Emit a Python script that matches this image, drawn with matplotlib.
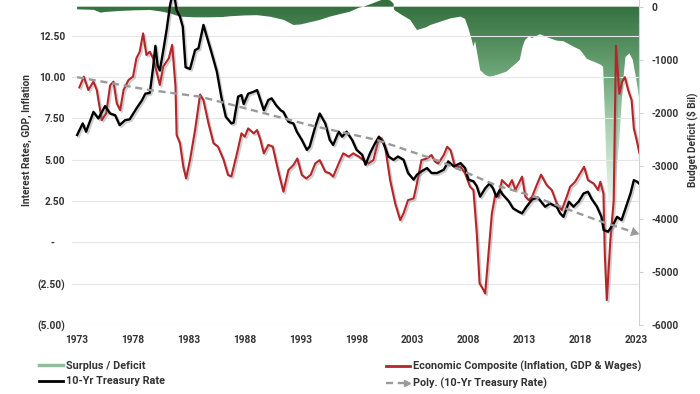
import numpy as np
import matplotlib
matplotlib.use("Agg")
import matplotlib.pyplot as plt
import matplotlib.patheffects as pe
from matplotlib.colors import LinearSegmentedColormap
from matplotlib.lines import Line2D
from matplotlib.legend_handler import HandlerBase
from matplotlib.ticker import FuncFormatter, FixedLocator

plt.rcParams['font.family'] = ['Roboto', 'DejaVu Sans']

# 10-yr treasury rate (%)
tsy_years = [1973.0, 1973.5, 1973.8, 1974.46, 1974.9, 1975.5, 1975.95, 1976.4, 1976.8, 1977.3,
             1977.7, 1978.3, 1978.8, 1979.1, 1979.5, 1979.8, 1980.0, 1980.2, 1980.4, 1980.7,
             1981.0, 1981.3, 1981.6, 1981.9, 1982.2, 1982.45, 1982.7, 1983.1, 1983.55, 1983.85,
             1984.3, 1984.6, 1985.0, 1985.5, 1985.9, 1986.3, 1986.8, 1987.0, 1987.4, 1987.7,
             1987.9, 1988.3, 1988.8, 1989.1, 1989.4, 1989.7, 1990.1, 1990.4, 1990.8, 1991.2,
             1991.45, 1991.9, 1992.35, 1992.65, 1993.1, 1993.55, 1993.8, 1994.3, 1994.7, 1995.2,
             1995.6, 1995.9, 1996.4, 1996.7, 1997.1, 1997.6, 1998.0, 1998.5, 1998.8, 1999.2,
             1999.65, 2000.0, 2000.4, 2000.85, 2001.3, 2001.7, 2002.2, 2002.6, 2003.1, 2003.4,
             2003.8, 2004.3, 2004.7, 2005.2, 2005.8, 2006.2, 2006.7, 2007.3, 2007.7, 2008.0,
             2008.45, 2008.75, 2009.05, 2009.5, 2009.9, 2010.2, 2010.5, 2010.8, 2011.1, 2011.6,
             2012.0, 2012.5, 2012.8, 2013.2, 2013.7, 2014.2, 2014.86, 2015.3, 2015.9, 2016.2,
             2016.5, 2017.0, 2017.4, 2017.85, 2018.3, 2018.7, 2019.0, 2019.5, 2019.9, 2020.1,
             2020.5, 2021.0, 2021.3, 2021.7, 2022.2, 2022.5, 2022.8, 2023.1, 2023.3]
tsy_values = [6.5, 7.2, 6.7, 7.9, 7.5, 8.25, 7.8, 7.7, 7.1, 7.4,
              7.45, 8.1, 8.6, 9.0, 9.05, 10.6, 11.9, 10.7, 10.4, 11.6,
              12.85, 14.3, 15.3, 14.06, 13.66, 13.05, 10.6, 10.5, 11.64, 11.74,
              13.16, 12.45, 11.54, 10.33, 8.8, 7.6, 7.2, 7.25, 8.82, 8.92,
              8.37, 9.0, 9.12, 9.22, 8.62, 8.0, 8.62, 8.72, 8.3, 8.0,
              7.9, 7.3, 7.2, 6.7, 6.2, 5.6, 5.8, 7.0, 7.8, 7.2,
              6.2, 5.9, 6.7, 6.4, 6.7, 6.2, 5.6, 5.3, 4.7, 5.4,
              6.0, 6.4, 6.0, 5.2, 5.0, 5.2, 5.0, 4.2, 3.8, 4.1,
              4.3, 4.5, 4.2, 4.2, 4.4, 4.9, 4.6, 4.8, 4.5, 3.8,
              3.7, 3.4, 2.77, 3.27, 3.57, 3.27, 2.77, 3.17, 2.87, 2.5,
              2.06, 1.86, 1.76, 2.16, 2.6, 2.72, 2.16, 2.36, 2.16, 1.76,
              1.55, 2.46, 2.16, 2.46, 2.96, 3.07, 2.66, 2.16, 1.55, 0.75,
              0.65, 1.15, 1.55, 1.35, 2.36, 2.96, 3.77, 3.67, 3.55]

# Poly. trendline of the 10-yr rate, as drawn on the chart
trend_years = [1973.0, 1979.5, 1984.0, 1987.0, 1993.8, 1999.8, 2005.5, 2010.5, 2013.8, 2016.5,
               2019.5, 2023.3]
trend_values = [10.0, 9.22, 8.82, 8.3, 7.1, 6.2, 4.9, 3.45, 2.8, 2.1,
                1.35, 0.5]

# Economic composite (inflation, GDP & wages)
comp_years = [1973.2, 1973.6, 1974.0, 1974.46, 1974.76, 1975.2, 1975.6, 1975.95, 1976.25, 1976.55,
              1976.85, 1977.15, 1977.6, 1978.0, 1978.3, 1978.6, 1978.9, 1979.2, 1979.5, 1979.8,
              1980.07, 1980.4, 1980.7, 1981.2, 1981.5, 1981.8, 1981.9, 1982.2, 1982.5, 1982.75,
              1983.1, 1983.55, 1984.0, 1984.3, 1984.75, 1985.2, 1985.6, 1986.1, 1986.5, 1986.8,
              1987.3, 1987.7, 1988.0, 1988.3, 1988.8, 1989.1, 1989.4, 1989.7, 1990.1, 1990.5,
              1990.9, 1991.45, 1991.9, 1992.35, 1992.7, 1993.1, 1993.5, 1993.9, 1994.3, 1994.7,
              1995.2, 1995.6, 1995.9, 1996.4, 1996.8, 1997.3, 1997.7, 1998.2, 1998.6, 1999.06,
              1999.5, 1999.95, 2000.25, 2000.55, 2001.0, 2001.45, 2001.9, 2002.2, 2002.6, 2003.1,
              2003.4, 2003.8, 2004.3, 2004.7, 2005.0, 2005.3, 2005.8, 2006.1, 2006.4, 2006.8,
              2007.3, 2007.7, 2008.15, 2008.45, 2008.75, 2009.0, 2009.35, 2009.5, 2009.8, 2010.1,
              2010.4, 2010.7, 2011.0, 2011.3, 2011.6, 2011.9, 2012.2, 2012.5, 2012.8, 2013.1,
              2013.4, 2013.7, 2014.05, 2014.5, 2015.0, 2015.46, 2015.9, 2016.35, 2016.8, 2017.1,
              2017.55, 2018.0, 2018.35, 2018.7, 2019.2, 2019.6, 2019.8, 2020.08, 2020.2, 2020.38,
              2020.7, 2021.0, 2021.2, 2021.5, 2021.75, 2022.0, 2022.3, 2022.6, 2022.8, 2023.05,
              2023.3]
comp_values = [9.38, 10.03, 9.22, 9.73, 9.22, 7.4, 7.81, 9.5, 9.73, 8.41,
               8.0, 9.22, 9.83, 10.03, 11.14, 11.54, 12.65, 11.34, 11.54, 11.14,
               10.43, 9.53, 10.64, 11.14, 11.95, 9.42, 6.5, 6.0, 4.58, 3.87,
               5.0, 6.8, 8.95, 8.6, 7.2, 6.0, 5.8, 5.0, 4.08, 4.0,
               5.39, 6.6, 6.4, 6.9, 6.6, 6.8, 6.2, 5.39, 5.9, 5.8,
               4.58, 3.07, 4.38, 4.68, 5.08, 4.08, 3.87, 4.1, 4.78, 4.98,
               4.28, 4.18, 3.98, 4.78, 5.39, 5.19, 5.39, 5.19, 4.98, 4.78,
               4.98, 6.2, 6.3, 5.79, 3.77, 2.36, 1.35, 1.76, 2.56, 2.66,
               3.57, 4.98, 5.08, 5.29, 4.9, 4.78, 5.29, 5.79, 5.59, 4.58,
               4.58, 4.18, 3.37, 3.17, 0.55, -2.48, -2.88, -3.09, -0.67, 1.76,
               2.87, 2.77, 3.77, 3.57, 3.37, 3.77, 3.17, 3.57, 3.98, 2.77,
               2.56, 2.77, 3.37, 4.1, 3.47, 3.17, 2.36, 1.96, 2.77, 3.37,
               3.67, 4.18, 4.58, 3.77, 3.57, 3.17, 3.67, 2.96, -0.67, -3.49,
               0.14, 2.56, 11.9, 9.0, 9.7, 10.0, 9.2, 8.6, 6.9, 6.2,
               5.4]

# Budget surplus / deficit ($ Bil)
def_years = [1973.0, 1974.5, 1975.1, 1975.5, 1976.85, 1978.0, 1979.5, 1980.5, 1981.3, 1982.2,
             1983.5, 1984.9, 1986.0, 1986.7, 1988.0, 1989.1, 1990.3, 1991.5, 1992.35, 1993.0,
             1993.5, 1994.7, 1995.6, 1996.5, 1997.4, 1998.2, 1998.6, 1999.4, 2000.0, 2000.4,
             2001.0, 2001.3, 2001.35, 2002.0, 2002.8, 2003.4, 2004.2, 2004.6, 2005.5, 2006.4,
             2007.3, 2007.7, 2008.0, 2008.3, 2008.45, 2008.6, 2008.75, 2009.05, 2009.5, 2009.9,
             2010.5, 2011.4, 2012.3, 2012.6, 2012.85, 2013.07, 2013.4, 2013.7, 2014.4, 2015.3,
             2015.9, 2016.5, 2017.4, 2018.0, 2018.6, 2019.2, 2019.8, 2020.05, 2020.2, 2020.35,
             2020.55, 2020.9, 2021.2, 2021.5, 2021.8, 2022.05, 2022.4, 2022.7, 2023.0, 2023.3]
def_values = [-50, -60, -113, -100, -80, -70, -62, -90, -125, -188,
              -200, -200, -195, -180, -165, -160, -190, -250, -345, -335,
              -310, -250, -188, -140, -94, -20, 0, 60, 110, 140,
              120, 60, -60, -150, -250, -440, -390, -345, -282, -220,
              -188, -230, -408, -627, -753, -650, -830, -1192, -1286, -1318,
              -1290, -1224, -1062, -1000, -750, -627, -564, -590, -520, -596,
              -640, -650, -753, -815, -985, -1035, -1090, -1130, -2000, -3000,
              -3800, -3700, -3300, -2500, -1500, -950, -880, -1000, -1350, -1750]

year_ticks = list(range(1973, 2024, 5))
left_ticks = [-5, -2.5, 0, 2.5, 5, 7.5, 10, 12.5]
right_ticks = [-6000, -5000, -4000, -3000, -2000, -1000, 0]

red = '#b3262a'
gray = '#9a9a9a'
txt = '#333333'
fs = 7.3

fig = plt.figure(figsize=(7, 3.94), dpi=100)
ax = fig.add_axes([0.103, 0.175, 0.81, 0.825])
ax2 = ax.twinx()
ax.set_zorder(ax2.get_zorder() + 1)
ax.patch.set_visible(False)

# surplus / deficit area with vertical gradient
xlo, xhi = 1972.55, 2023.27
poly = ax2.fill_between(def_years, def_values, 0, facecolor='none', edgecolor='none')
green_cmap = LinearSegmentedColormap.from_list(
    'greens', [(0, 'white'), (0.45, '#a6cfad'), (0.675, '#6fa87a'), (1, '#35703f')])
levels = np.linspace(-6000, 200, 400).reshape(-1, 1)
im = ax2.imshow(levels, extent=[xlo, xhi, -6000, 200], origin='lower', aspect='auto',
                cmap=green_cmap, vmin=-4000, vmax=0, interpolation='bilinear')
im.set_clip_path(poly.get_paths()[0], transform=ax2.transData)

shadow = [pe.SimpleLineShadow(offset=(1.2, -1.2), shadow_color='#777777', alpha=0.35), pe.Normal()]

ax.plot(comp_years, comp_values, color=red, lw=1.5, path_effects=shadow, zorder=3)
ax.plot(tsy_years, tsy_values, color='black', lw=1.7, path_effects=shadow, zorder=4)

# trendline, dashed with an arrow head at the end
ax.plot(trend_years[:-1] + [trend_years[-1] - 0.6],
        trend_values[:-1] + [trend_values[-1] + 0.14],
        color=gray, lw=1.7, ls=(0, (3, 2)), zorder=5)
ax.annotate('', xy=(trend_years[-1], trend_values[-1]),
            xytext=(trend_years[-2], trend_values[-2]),
            arrowprops=dict(arrowstyle='-|>,head_length=0.6,head_width=0.35', color=gray, lw=0,
                            shrinkA=0, shrinkB=0),
            zorder=5)

ax.set_xlim(xlo, xhi)
ax.set_ylim(-5, 14.67)
ax2.set_ylim(-6000, 126)
ax2.set_xlim(xlo, xhi)

ax.yaxis.set_major_locator(FixedLocator(left_ticks))
def acct(v, pos):
    if abs(v) < 1e-9:
        return '-    '
    if v < 0:
        return f'({abs(v):.2f})'
    return f'{v:.2f}'
ax.yaxis.set_major_formatter(FuncFormatter(acct))
ax.set_xticks(year_ticks)
ax2.set_yticks(right_ticks)
ax2.set_yticklabels([str(v) for v in right_ticks])

ax.grid(axis='y', color='#e6e6e6', lw=0.8)
for a in (ax, ax2):
    for s in ['top', 'left', 'bottom']:
        a.spines[s].set_visible(False)
ax.spines['right'].set_visible(False)
ax2.spines['right'].set_color('#d0d0d0')

ax.tick_params(axis='y', length=0, labelsize=fs, labelcolor=txt, pad=5)
ax.tick_params(axis='x', length=0, labelsize=fs, labelcolor=txt, pad=7)
ax2.tick_params(axis='y', length=3, color='#d0d0d0', labelsize=fs, labelcolor=txt, pad=6)
for lab in ax.get_xticklabels() + ax.get_yticklabels() + ax2.get_yticklabels():
    lab.set_fontweight('bold')

ax.set_ylabel('Interest Rates, GDP, Inflation', fontsize=fs, fontweight='bold', color=txt)
ax.yaxis.set_label_coords(-0.071, 0.57)
ax2.set_ylabel('Budget Deficit ($ Bil)', fontsize=fs, fontweight='bold', color=txt)
ax2.yaxis.set_label_coords(1.083, 0.57)


class ArrowHandler(HandlerBase):
    def create_artists(self, legend, orig_handle, xdescent, ydescent, width, height, fontsize, trans):
        y = height / 2 - ydescent
        ln = Line2D([-xdescent, width - xdescent - 4], [y, y], color=gray, lw=1.7,
                    ls=(0, (3, 2)), transform=trans)
        hd = Line2D([width - xdescent - 2], [y], marker='>', markersize=5, color=gray,
                    transform=trans)
        return [ln, hd]


arrow_key = object()
h1 = [Line2D([], [], color='#8fbf99', lw=2.5), Line2D([], [], color='black', lw=2)]
h2 = [Line2D([], [], color=red, lw=2), arrow_key]
lkw = dict(loc='upper left', frameon=False, handlelength=2.2, handletextpad=0.3,
           labelspacing=0.55, prop={'size': 7.8, 'weight': 'bold'}, labelcolor=txt)
leg1 = fig.legend(h1, ['Surplus / Deficit', '10-Yr Treasury Rate'],
                  bbox_to_anchor=(0.05, 0.096), borderaxespad=0, **lkw)
leg2 = fig.legend(h2, ['Economic Composite (Inflation, GDP & Wages)', 'Poly. (10-Yr Treasury Rate)'],
                  bbox_to_anchor=(0.545, 0.096), borderaxespad=0,
                  handler_map={arrow_key: ArrowHandler()}, **lkw)

fig.savefig('out.png', dpi=100)
